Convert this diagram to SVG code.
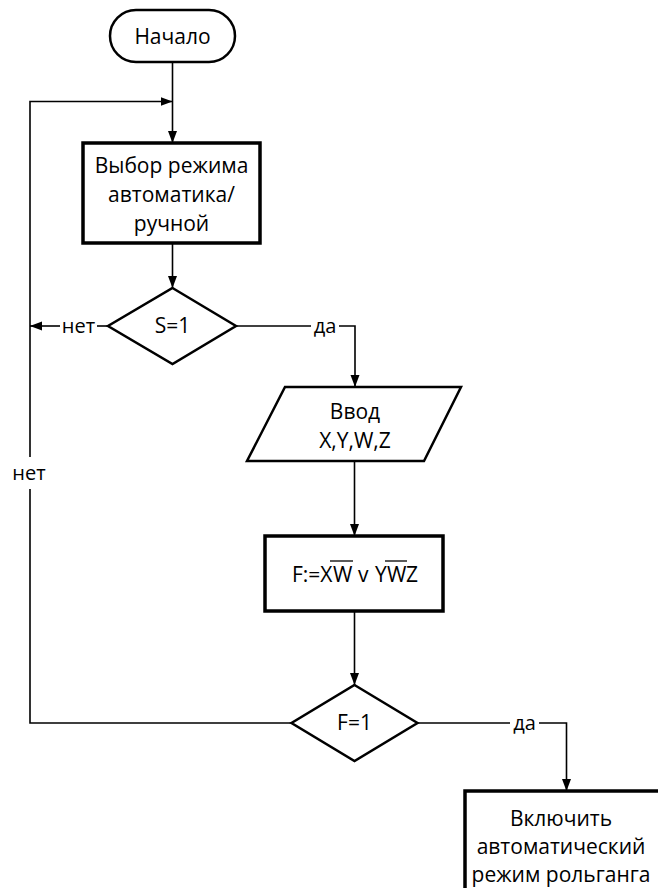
<svg xmlns="http://www.w3.org/2000/svg" width="658" height="888" viewBox="0 0 658 888">
<style>
  .shape { fill: #fff; stroke: #000; stroke-width: 2.5; stroke-linejoin: miter; }
  .box { fill: #fff; stroke: #000; stroke-width: 3.5; }
  .conn { fill: none; stroke: #000; stroke-width: 1.6; }
  text { font-family: "Open Sans", "Noto Sans", "DejaVu Sans", sans-serif; font-size: 21px; fill: #000; }
  .c { text-anchor: middle; }
  .lbl { font-size: 20px; }
</style>
<defs>
  <marker id="arr" markerUnits="userSpaceOnUse" markerWidth="12" markerHeight="12" viewBox="0 0 12 12" refX="12" refY="6" orient="auto">
    <path d="M0,1.5 L12,6 L0,10.5 Z" fill="#000"/>
  </marker>
</defs>
<rect width="658" height="888" fill="#fff"/>

<g id="connectors">
  <path class="conn" d="M172.5,62 V143" marker-end="url(#arr)"/>
  <path class="conn" d="M291.5,723 H30 V489"/>
  <path class="conn" d="M30,457 V101.5 H172.5" marker-end="url(#arr)"/>
  <path class="conn" d="M172.5,243 V288" marker-end="url(#arr)"/>
  <path class="conn" d="M108,326 H97"/>
  <path class="conn" d="M60,326 H30" marker-end="url(#arr)"/>
  <path class="conn" d="M236,326 H311"/>
  <path class="conn" d="M339,326 H355 V387" marker-end="url(#arr)"/>
  <path class="conn" d="M354.5,461 V536" marker-end="url(#arr)"/>
  <path class="conn" d="M354.5,611 V685" marker-end="url(#arr)"/>
  <path class="conn" d="M417.5,723 H510"/>
  <path class="conn" d="M539,723 H566.5 V791" marker-end="url(#arr)"/>
  <text class="c lbl" x="78.5" y="333">нет</text>
  <text class="c lbl" x="325" y="333">да</text>
  <text class="c lbl" x="29" y="480">нет</text>
  <text class="c lbl" x="524.5" y="730">да</text>
</g>

<g id="start">
  <rect class="shape" x="110" y="10" width="125" height="52" rx="26" ry="26"/>
  <text class="c" x="172.5" y="44">Начало</text>
</g>

<g id="select-mode">
  <rect class="box" x="83" y="143" width="177" height="100"/>
  <text class="c" x="171.5" y="173">Выбор режима</text>
  <text class="c" x="171.5" y="202">автоматика/</text>
  <text class="c" x="171.5" y="231">ручной</text>
</g>

<g id="check-s">
  <polygon class="shape" points="172.5,288 236,326 172.5,364 108,326"/>
  <text class="c" x="172.5" y="333">S=1</text>
</g>

<g id="input">
  <polygon class="shape" points="285,387 461,387 424,461 247,461"/>
  <text class="c" x="355" y="419">Ввод</text>
  <text class="c" x="355" y="448">X,Y,W,Z</text>
</g>

<g id="compute">
  <rect class="box" x="265" y="536" width="178" height="75"/>
  <text y="582"><tspan x="292">F:=X</tspan><tspan x="333">W</tspan><tspan x="358">v</tspan><tspan x="375">Y</tspan><tspan x="387">W</tspan><tspan x="406">Z</tspan></text>
  <line x1="330" y1="561" x2="353" y2="561" stroke="#000" stroke-width="1.3"/>
  <line x1="385" y1="561" x2="407" y2="561" stroke="#000" stroke-width="1.3"/>
</g>

<g id="check-f">
  <polygon class="shape" points="354.5,685 417.5,723 354.5,761 291.5,723"/>
  <text class="c" x="354.5" y="730">F=1</text>
</g>

<g id="auto-mode">
  <rect class="box" x="465" y="791" width="200" height="110"/>
  <text class="c" x="561" y="826">Включить</text>
  <text class="c" x="561" y="854">автоматический</text>
  <text class="c" x="561" y="882">режим рольганга</text>
</g>
</svg>
